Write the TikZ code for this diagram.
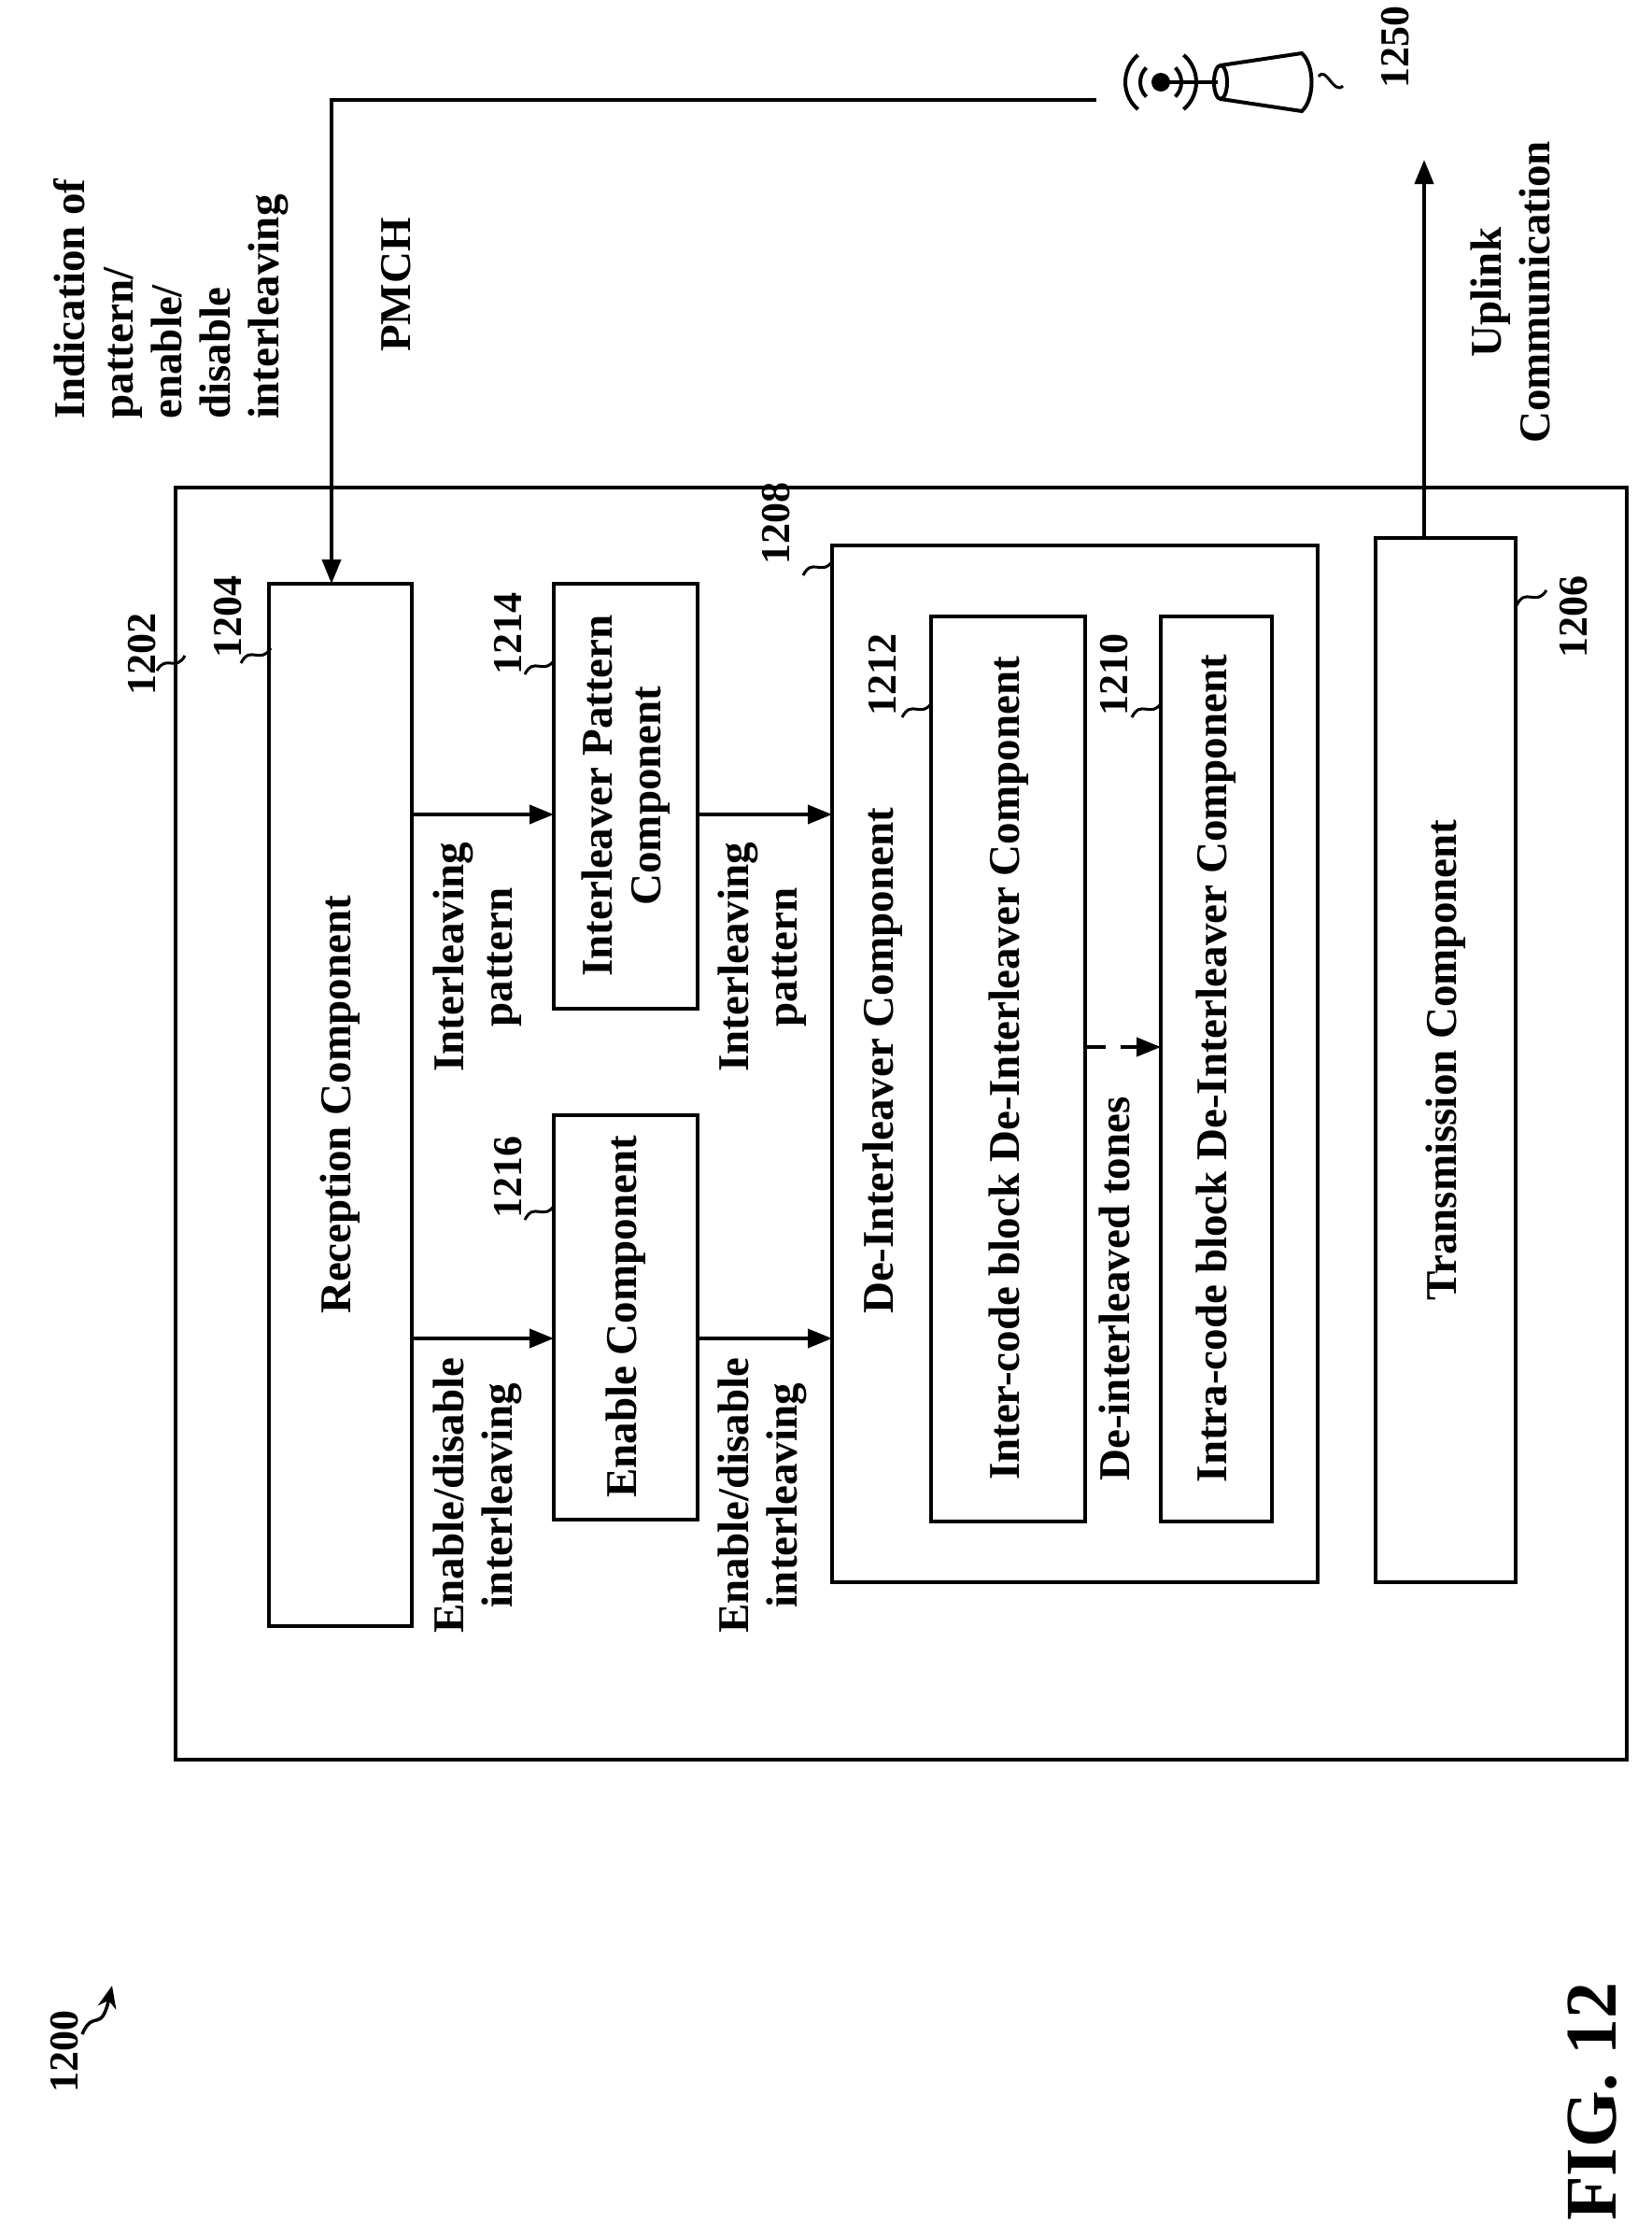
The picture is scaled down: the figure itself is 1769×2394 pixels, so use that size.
\documentclass[tikz,border=0pt]{standalone}
\usepackage{fontspec}
\setmainfont{Liberation Serif}
\usetikzlibrary{arrows.meta}
\begin{document}
\begin{tikzpicture}[x=1pt,y=-1pt,line width=4.5pt,
 box/.style={draw,line width=4.5pt},
 txt/.style={font=\bfseries\fontsize{47}{52}\selectfont,rotate=90,align=center,inner sep=0},
 num/.style={font=\bfseries\fontsize{44}{48}\selectfont,rotate=90,inner sep=0},
 arr/.style={-{Triangle[length=26pt,width=20pt]},line width=4pt},
 sq/.style={line width=3pt}]
\useasboundingbox (0,0) rectangle (1769,2394);
% boxes
\draw[box] (188,522) rectangle (1742,1884);
\draw[box] (288,625) rectangle (441,1741);
\draw[box] (593,625) rectangle (747,1080);
\draw[box] (593,1194) rectangle (747,1627);
\draw[box] (891,584) rectangle (1411,1694);
\draw[box] (997,660) rectangle (1162,1629);
\draw[box] (1243,660) rectangle (1362,1629);
\draw[box] (1473,576) rectangle (1623,1694);
% box texts
\node[txt] (trec) at (364,1183) {Reception Component};
\node[txt] (tilp) at (670,852) {Interleaver Pattern\\Component};
\node[txt] (ten) at (670,1410) {Enable Component};
\node[txt] (tdi) at (945,1136) {De-Interleaver Component};
\node[txt] (tinter) at (1080,1144) {Inter-code block De-Interleaver Component};
\node[txt] (tintra) at (1302,1144) {Intra-code block De-Interleaver Component};
\node[txt] (ttx) at (1548,1135) {Transmission Component};
% coordinates for connectors
\coordinate (a1s) at (441,872); \coordinate (a1e) at (593,872);
\coordinate (a2s) at (441,1433); \coordinate (a2e) at (593,1433);
\coordinate (a3s) at (747,872); \coordinate (a3e) at (891,872);
\coordinate (a4s) at (747,1433); \coordinate (a4e) at (891,1433);
\coordinate (a5s) at (1162,1121); \coordinate (a5e) at (1243,1121);
\coordinate (topR) at (1174,107); \coordinate (topL) at (355,107); \coordinate (recT) at (355,625);
\coordinate (txT) at (1525,576); \coordinate (upE) at (1525,171);
\draw[arr] (a1s) -- (a1e);
\draw[arr] (a2s) -- (a2e);
\draw[arr] (a3s) -- (a3e);
\draw[arr] (a4s) -- (a4e);
\draw[arr,dash pattern=on 22pt off 16pt] (a5s) -- (a5e);
\draw[arr] (topR) -- (topL) -- (recT);
\draw[arr] (txT) -- (upE);
% labels
\node[txt] (l1) at (511,1025) {Interleaving\\pattern};
\node[txt] (l2) at (816,1025) {Interleaving\\pattern};
\node[txt] (l3) at (511,1601) {Enable/disable\\interleaving};
\node[txt] (l4) at (816,1601) {Enable/disable\\interleaving};
\node[txt] (l5) at (1193,1380) {De-interleaved tones};
\node[txt,align=left] (l6) at (183,320) {Indication of\\pattern/\\enable/\\disable\\interleaving};
\node[txt] (l7) at (424,305) {PMCH};
\node[txt] (l8) at (1617,313) {Uplink\\Communication};
% numbers
\node[num] (n1202) at (152,700) {1202};
\draw[sq] (168,718) .. controls (178,700) and (188,720) .. (198,702);
\node[num] (n1204) at (244,660) {1204};
\draw[sq] (258,710) .. controls (268,690) and (278,712) .. (290,694);
\node[num] (n1214) at (544,678) {1214};
\draw[sq] (562,722) .. controls (572,702) and (582,724) .. (594,706);
\node[num] (n1216) at (544,1260) {1216};
\draw[sq] (562,1306) .. controls (572,1286) and (582,1308) .. (594,1290);
\node[num] (n1208) at (831,560) {1208};
\draw[sq] (860,616) .. controls (870,596) and (880,618) .. (892,600);
\node[num] (n1212) at (945,722) {1212};
\draw[sq] (966,768) .. controls (976,748) and (986,770) .. (998,752);
\node[num] (n1210) at (1193,722) {1210};
\draw[sq] (1212,768) .. controls (1222,748) and (1232,770) .. (1244,752);
\node[num] (n1206) at (1685,660) {1206};
\draw[sq] (1624,648) .. controls (1634,628) and (1644,650) .. (1656,632);
\node[num] (n1250) at (1494,50) {1250};
\node[num] (n1200) at (69,2196) {1200};
\draw[line width=3.5pt,-{Stealth[length=24pt,width=20pt]}] (88,2178) .. controls (100,2150) and (108,2178) .. (120,2126);
\node[font=\bfseries\fontsize{78}{84}\selectfont,rotate=90,inner sep=0] (fig) at (1705,2250) {FIG. 12};
% antenna
\fill (1243,88) circle (10pt);
\draw[line width=4pt] (1243,88) -- (1304,88);
\draw[line width=4pt] ([shift={(1243,88)}]135:22) arc (135:225:22);
\draw[line width=4pt] ([shift={(1243,88)}]45:22) arc (45:-45:22);
\draw[line width=4pt] ([shift={(1243,88)}]130:38) arc (130:230:38);
\draw[line width=4pt] ([shift={(1243,88)}]50:38) arc (50:-50:38);
\draw[line width=4pt] (1307,88) ellipse (7 and 18);
\draw[line width=4pt] (1307,70) -- (1394,57) .. controls (1408,70) and (1408,106) .. (1394,119) -- (1307,106);
\draw[sq] (1412,82) .. controls (1420,70) and (1428,102) .. (1438,92);
\end{tikzpicture}
\end{document}
